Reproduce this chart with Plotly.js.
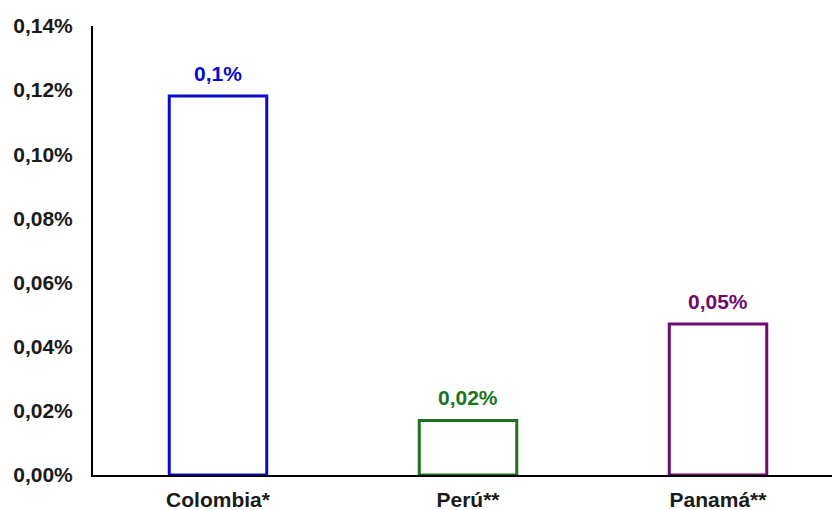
<!DOCTYPE html>
<html>
<head>
<meta charset="utf-8">
<script src="https://cdn.plot.ly/plotly-3.0.1.min.js"></script>
<style>html,body{margin:0;padding:0;background:#fff;}#chart{width:832px;height:510px;}</style>
</head>
<body>
<div id="chart"></div>
<script>
const categories = ['Colombia*', 'Perú**', 'Panamá**'];
const values = [0.1182, 0.0170, 0.0471];
const valueLabels = ['0,1%', '0,02%', '0,05%'];
const colors = ['#0a0ad2', '#1b741b', '#6e0a70'];
const yTicks = [0, 0.02, 0.04, 0.06, 0.08, 0.10, 0.12, 0.14];
const yTickLabels = ['0,00%', '0,02%', '0,04%', '0,06%', '0,08%', '0,10%', '0,12%', '0,14%'];

const font = {family: 'Liberation Sans, Arial, sans-serif', size: 21, color: '#1a1a1a', weight: 'bold'};

const trace = {
  type: 'bar',
  x: categories,
  y: values,
  marker: {color: 'rgba(255,255,255,0)', line: {color: colors, width: 3}},
  hoverinfo: 'none'
};

const annotations = categories.map((c, i) => ({
  x: c, y: values[i], xref: 'x', yref: 'y',
  text: valueLabels[i], showarrow: false,
  yanchor: 'bottom', yshift: 9,
  font: {family: font.family, size: 21, color: colors[i], weight: 'bold'}
}));

const layout = {
  width: 832, height: 510,
  margin: {l: 93, r: 0, t: 26, b: 35},
  paper_bgcolor: '#fff', plot_bgcolor: '#fff',
  bargap: 0.61,
  showlegend: false,
  font: font,
  xaxis: {
    type: 'category',
    range: [-0.5, 2.456],
    showline: true, linecolor: '#000', linewidth: 2,
    showgrid: false, ticks: '', zeroline: false,
    tickfont: font,
    ticklabelstandoff: 5
  },
  yaxis: {
    range: [0, 0.14],
    tickmode: 'array',
    tickvals: yTicks,
    ticktext: yTickLabels,
    showline: true, linecolor: '#000', linewidth: 2,
    showgrid: false, zeroline: false, ticks: '',
    tickfont: font,
    ticklabelstandoff: 14
  },
  annotations: annotations
};

Plotly.newPlot('chart', [trace], layout, {displayModeBar: false, staticPlot: true});
</script>
</body>
</html>
